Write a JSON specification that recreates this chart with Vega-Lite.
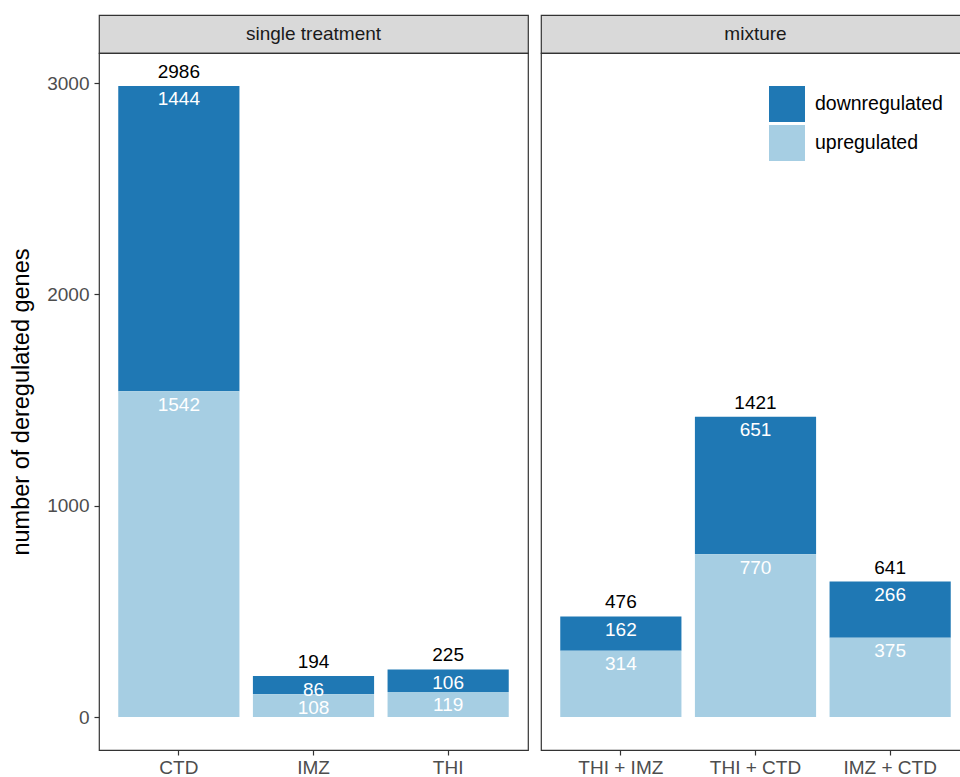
{
  "$schema": "https://vega.github.io/schema/vega-lite/v6.json",
  "background": "white",
  "padding": {"left": 9, "top": 14, "right": 0, "bottom": 0},
  "config": {
    "font": "Liberation Sans",
    "view": {"stroke": "#333333", "strokeWidth": 1.2},
    "axis": {
      "grid": false,
      "domain": false,
      "tickColor": "#333333",
      "tickSize": 5,
      "tickWidth": 1.2,
      "labelColor": "#4d4d4d",
      "labelFontSize": 19,
      "labelPadding": 5,
      "titleColor": "black",
      "titleFontSize": 23.5,
      "titleFontWeight": "normal",
      "titlePadding": 13
    },
    "axisX": {"labelPadding": 3}
  },
  "datasets": {
    "genes": [
      {"panel": "single treatment", "treatment": "CTD", "regulation": "downregulated", "count": 1444},
      {"panel": "single treatment", "treatment": "CTD", "regulation": "upregulated", "count": 1542},
      {"panel": "single treatment", "treatment": "IMZ", "regulation": "downregulated", "count": 86},
      {"panel": "single treatment", "treatment": "IMZ", "regulation": "upregulated", "count": 108},
      {"panel": "single treatment", "treatment": "THI", "regulation": "downregulated", "count": 106},
      {"panel": "single treatment", "treatment": "THI", "regulation": "upregulated", "count": 119},
      {"panel": "mixture", "treatment": "THI + IMZ", "regulation": "downregulated", "count": 162},
      {"panel": "mixture", "treatment": "THI + IMZ", "regulation": "upregulated", "count": 314},
      {"panel": "mixture", "treatment": "THI + CTD", "regulation": "downregulated", "count": 651},
      {"panel": "mixture", "treatment": "THI + CTD", "regulation": "upregulated", "count": 770},
      {"panel": "mixture", "treatment": "IMZ + CTD", "regulation": "downregulated", "count": 266},
      {"panel": "mixture", "treatment": "IMZ + CTD", "regulation": "upregulated", "count": 375}
    ],
    "strips": [
      {"panel": "single treatment"},
      {"panel": "mixture"}
    ]
  },
  "spacing": 11,
  "resolve": {
    "scale": {"x": "independent", "y": "independent", "color": "independent"},
    "legend": {"color": "independent"}
  },
  "hconcat": [
    {
      "bounds": "flush",
      "spacing": 0,
      "resolve": {
        "scale": {"color": "independent"},
        "legend": {"color": "independent"}
      },
      "vconcat": [
        {
          "width": 429,
          "height": 38,
          "view": {"fill": "#d9d9d9", "stroke": "#333333", "strokeWidth": 1.2},
          "data": {"name": "strips"},
          "transform": [{"filter": "datum.panel === 'single treatment'"}],
          "mark": {"type": "text", "fontSize": 19, "color": "#1a1a1a"},
          "encoding": {"text": {"field": "panel"}}
        },
        {
          "width": 429,
          "height": 697,
          "data": {"name": "genes"},
          "transform": [{"filter": "datum.panel === 'single treatment'"}],
          "encoding": {
            "x": {
              "field": "treatment",
              "type": "nominal",
              "sort": ["CTD", "IMZ", "THI"],
              "scale": {"paddingInner": 0.1, "paddingOuter": 0.143},
              "axis": {"title": null, "labelAngle": 0}
            }
          },
          "layer": [
            {
              "mark": {"type": "bar"},
              "encoding": {
                "y": {
                  "field": "count",
                  "type": "quantitative",
                  "stack": "zero",
                  "scale": {"domain": [-156, 3142], "nice": false, "zero": false},
                  "axis": {"title": "number of deregulated genes", "values": [0, 1000, 2000, 3000], "format": "d"}
                },
                "color": {
                  "field": "regulation",
                  "type": "nominal",
                  "scale": {"domain": ["downregulated", "upregulated"], "range": ["#1f78b4", "#a6cee3"]},
                  "legend": null
                },
                "order": {"field": "regulation", "sort": "descending"}
              }
            },
            {
              "mark": {"type": "text", "color": "white", "fontSize": 19, "dy": 13.5},
              "encoding": {
                "y": {"field": "count", "type": "quantitative", "stack": "zero", "scale": {"domain": [-156, 3142], "nice": false, "zero": false}},
                "detail": {"field": "regulation"},
                "order": {"field": "regulation", "sort": "descending"},
                "text": {"field": "count", "type": "quantitative", "format": "d"}
              }
            },
            {
              "mark": {"type": "text", "color": "black", "fontSize": 19, "dy": -14},
              "encoding": {
                "y": {"aggregate": "sum", "field": "count", "type": "quantitative", "scale": {"domain": [-156, 3142], "nice": false, "zero": false}},
                "text": {"aggregate": "sum", "field": "count", "type": "quantitative", "format": "d"}
              }
            }
          ]
        }
      ]
    },
    {
      "bounds": "flush",
      "spacing": 0,
      "resolve": {
        "scale": {"color": "independent"},
        "legend": {"color": "independent"}
      },
      "vconcat": [
        {
          "width": 429,
          "height": 38,
          "view": {"fill": "#d9d9d9", "stroke": "#333333", "strokeWidth": 1.2},
          "data": {"name": "strips"},
          "transform": [{"filter": "datum.panel === 'mixture'"}],
          "mark": {"type": "text", "fontSize": 19, "color": "#1a1a1a"},
          "encoding": {"text": {"field": "panel"}}
        },
        {
          "width": 429,
          "height": 697,
          "data": {"name": "genes"},
          "transform": [{"filter": "datum.panel === 'mixture'"}],
          "encoding": {
            "x": {
              "field": "treatment",
              "type": "nominal",
              "sort": ["THI + IMZ", "THI + CTD", "IMZ + CTD"],
              "scale": {"paddingInner": 0.1, "paddingOuter": 0.143},
              "axis": {"title": null, "labelAngle": 0}
            }
          },
          "layer": [
            {
              "mark": {"type": "bar"},
              "encoding": {
                "y": {
                  "field": "count",
                  "type": "quantitative",
                  "stack": "zero",
                  "scale": {"domain": [-156, 3142], "nice": false, "zero": false},
                  "axis": null
                },
                "color": {
                  "field": "regulation",
                  "type": "nominal",
                  "scale": {"domain": ["downregulated", "upregulated"], "range": ["#1f78b4", "#a6cee3"]},
                  "legend": {
                    "orient": "none",
                    "legendX": 228,
                    "legendY": 33,
                    "title": null,
                    "padding": 0,
                    "symbolType": "square",
                    "symbolSize": 1296,
                    "symbolStrokeWidth": 0,
                    "symbolOpacity": 1,
                    "labelFontSize": 19.5,
                    "labelColor": "black",
                    "labelOffset": 10,
                    "rowPadding": 3
                  }
                },
                "order": {"field": "regulation", "sort": "descending"}
              }
            },
            {
              "mark": {"type": "text", "color": "white", "fontSize": 19, "dy": 13.5},
              "encoding": {
                "y": {"field": "count", "type": "quantitative", "stack": "zero", "scale": {"domain": [-156, 3142], "nice": false, "zero": false}},
                "detail": {"field": "regulation"},
                "order": {"field": "regulation", "sort": "descending"},
                "text": {"field": "count", "type": "quantitative", "format": "d"}
              }
            },
            {
              "mark": {"type": "text", "color": "black", "fontSize": 19, "dy": -14},
              "encoding": {
                "y": {"aggregate": "sum", "field": "count", "type": "quantitative", "scale": {"domain": [-156, 3142], "nice": false, "zero": false}},
                "text": {"aggregate": "sum", "field": "count", "type": "quantitative", "format": "d"}
              }
            }
          ]
        }
      ]
    }
  ]
}
